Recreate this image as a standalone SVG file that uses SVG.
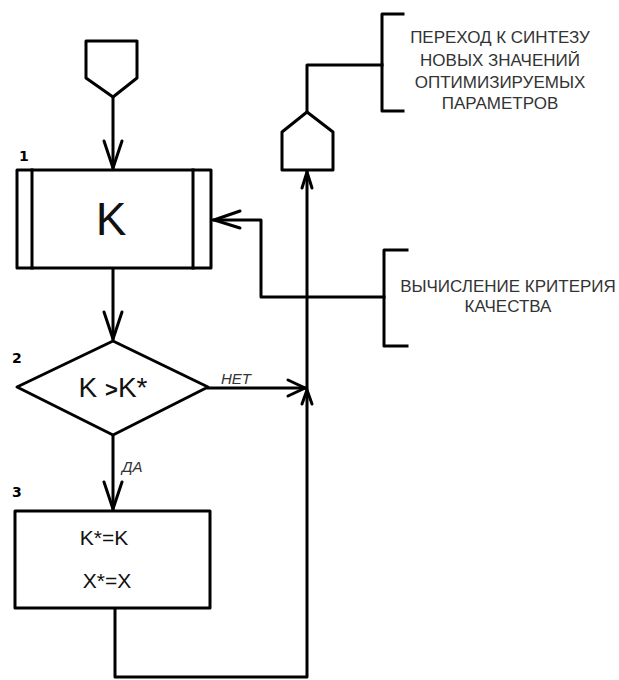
<svg xmlns="http://www.w3.org/2000/svg" width="619" height="680" viewBox="0 0 619 680">
<style>
.s{fill:none;stroke:#000;stroke-width:3;stroke-linejoin:round;stroke-linecap:square}
.b{fill:#fff;stroke:#000;stroke-width:3;stroke-linejoin:round}
.t{font-family:"Liberation Sans",Arial,sans-serif;fill:#111}
.n{font-family:"DejaVu Sans",sans-serif;font-weight:bold;font-size:14px;fill:#000}
.c{font-family:"Liberation Sans",Arial,sans-serif;font-size:17px;fill:#333;text-anchor:middle}
.i{font-family:"Liberation Sans",Arial,sans-serif;font-size:15px;font-style:italic;fill:#333}
.a{fill:none;stroke:#000;stroke-width:3;stroke-linejoin:miter;stroke-linecap:round}
</style>
<rect width="619" height="680" fill="#fff"/>
<g id="connectors">
  <path class="s" d="M113,97 V168"/>
  <path class="a" d="M104,141 L113,168 L122,141"/>
  <path class="s" d="M113,268 V339"/>
  <path class="a" d="M104,312 L113,339 L122,312"/>
  <path class="s" d="M113,435 V509"/>
  <path class="a" d="M104,482 L113,509 L122,482"/>
  <path class="s" d="M208,388 H305"/>
  <path class="a" d="M288,380 L305,388 L288,396"/>
  <path class="s" d="M115,608 V677 H307 V172"/>
  <path class="a" d="M302,404 L307,390 L312,404"/>
  <path class="a" d="M302,188 L307,172 L312,188"/>
  <path class="s" d="M384,297 H261 V220 H214"/>
  <path class="a" d="M240,211 L214,220 L240,228"/>
  <path class="s" d="M307,112 V65 H382"/>
  <text class="i" x="221" y="384">НЕТ</text>
  <text class="i" x="122" y="472">ДА</text>
</g>
<g id="start">
  <path class="b" d="M86,41 H137 V78 L113,97 L86,78 Z"/>
</g>
<g id="node1">
  <text class="n" x="19" y="161">1</text>
  <rect class="b" x="17" y="170" width="194" height="98"/>
  <path class="s" d="M32,170 V268 M193,170 V268"/>
  <text class="t" x="111" y="235" font-size="46" text-anchor="middle">K</text>
</g>
<g id="node2">
  <text class="n" x="12" y="363">2</text>
  <path class="b" d="M17,387 L113,341 L208,387 L113,435 Z"/>
  <text class="t" x="113" y="397" font-size="28" text-anchor="middle">K <tspan font-weight="bold" font-size="22">&gt;</tspan>K*</text>
</g>
<g id="node3">
  <text class="n" x="12" y="497">3</text>
  <rect class="b" x="15" y="511" width="195" height="97"/>
  <text class="t" x="104" y="545" font-size="21" text-anchor="middle">K*=K</text>
  <text class="t" x="107" y="588" font-size="21" text-anchor="middle">X*=X</text>
</g>
<g id="exit">
  <path class="b" d="M282,170 V132 L307,112 L333,132 V170 Z"/>
</g>
<g id="comment1">
  <path class="s" d="M403,14 H382 V111 H403"/>
  <text class="c" x="500" y="43">ПЕРЕХОД К СИНТЕЗУ</text>
  <text class="c" x="500" y="66">НОВЫХ ЗНАЧЕНИЙ</text>
  <text class="c" x="500" y="88">ОПТИМИЗИРУЕМЫХ</text>
  <text class="c" x="500" y="109">ПАРАМЕТРОВ</text>
</g>
<g id="comment2">
  <path class="s" d="M407,250 H384 V346 H407"/>
  <text class="c" x="508" y="292">ВЫЧИСЛЕНИЕ КРИТЕРИЯ</text>
  <text class="c" x="508" y="312">КАЧЕСТВА</text>
</g>
</svg>
